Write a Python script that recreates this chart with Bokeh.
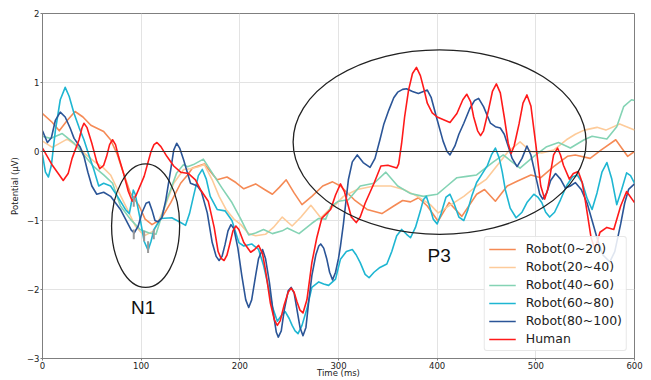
from bokeh.plotting import figure
from bokeh.models import Range1d, Legend, LegendItem, Span, FixedTicker
from bokeh.core.properties import value
from bokeh.embed import file_html
from bokeh.resources import INLINE

# ---------------- data: (time ms, potential uV) pairs ----------------
human_pts = [(0,0.05),(10,-0.2),(21,-0.42),(26,-0.32),(30,-0.1),(37,0.17),(40,0.34),(42,0.41),(45,0.35),(50,0.12),
             (55,-0.15),(58,-0.25),(62,-0.2),(65,-0.07),(68,0.1),(71,0.17),(74,0.1),(77,-0.07),(82,-0.31),(87,-0.58),
             (91,-0.72),(95,-0.63),(103,-0.36),(110,0.0),(113,0.1),(116,0.13),(120,0.07),(126,-0.07),(133,-0.21),(140,-0.3),
             (148,-0.32),(155,-0.41),(160,-0.55),(168,-0.72),(174,-1.1),(178,-1.45),(181,-1.55),(184,-1.58),(187,-1.5),(190,-1.33),
             (193,-1.15),(196,-1.08),(199,-1.13),(204,-1.32),(211,-1.46),(215,-1.42),(219,-1.36),(223,-1.48),(226,-1.72),(231,-2.2),
             (235,-2.44),(238,-2.52),(241,-2.45),(245,-2.22),(249,-2.04),(252,-1.98),(255,-2.04),(258,-2.18),(261,-2.3),(264,-2.34),
             (268,-2.15),(273,-1.61),(278,-1.25),(283,-0.97),(292,-0.84),(297,-0.63),(302,-0.47),(306,-0.58),(309,-0.74),(313,-0.95),
             (318,-1.03),(322,-0.95),(327,-0.75),(336,-0.46),(343,-0.21),(350,-0.2),(359,-0.24),(361,-0.18),(364,0.12),(367,0.5),
             (371,0.89),(375,1.13),(379,1.22),(383,1.1),(387,0.88),(390,0.7),(395,0.56),(400,0.5),(413,0.42),(420,0.55),
             (426,0.75),(430,0.83),(434,0.72),(437,0.5),(441,0.3),(444,0.23),(447,0.3),(452,0.6),(456,0.87),(460,0.98),
             (464,0.85),(468,0.5),(472,0.12),(475,-0.03),(478,0.08),(483,0.4),(487,0.7),(491,0.82),(495,0.66),(500,0.1),
             (505,-0.5),(509,-0.69),(512,-0.55),(515,-0.3),(518,-0.05),(522,0.05),(525,-0.05),(528,-0.2),(534,-0.4),(538,-0.32),
             (543,-0.29),(547,-0.45),(550,-0.7),(556,-1.25),(560,-1.42),(565,-1.17),(572,-1.1),(579,-1.13),(586,-0.79),(592,-0.58),
             (600,-0.74)]

r80_pts = [(0,0.3),(5,0.13),(9,0.2),(13,0.45),(18,0.57),(23,0.5),(28,0.34),(32,0.19),(38,0.07),(42,-0.07),
           (46,-0.3),(50,-0.5),(55,-0.62),(62,-0.59),(69,-0.65),(79,-0.84),(86,-1.03),(90,-1.14),(93,-1.18),(97,-1.08),
           (101,-0.88),(105,-0.75),(108,-0.73),(111,-0.85),(114,-1.0),(117,-1.02),(121,-0.96),(125,-0.7),(130,-0.26),(133,0.02),
           (136,0.12),(139,0.05),(143,-0.12),(150,-0.46),(157,-0.5),(161,-0.58),(167,-0.89),(172,-1.32),(176,-1.52),(179,-1.58),
           (182,-1.52),(185,-1.35),(188,-1.15),(191,-1.06),(194,-1.12),(198,-1.4),(202,-1.8),(206,-2.15),(209,-2.26),(212,-2.15),
           (216,-1.8),(219,-1.55),(223,-1.42),(226,-1.55),(230,-1.9),(234,-2.35),(237,-2.62),(239,-2.69),(242,-2.6),(245,-2.3),
           (249,-2.02),(252,-1.97),(255,-2.05),(258,-2.3),(261,-2.55),(264,-2.67),(267,-2.55),(270,-2.15),(273,-1.8),(277,-1.5),
           (280,-1.37),(282,-1.34),(285,-1.4),(288,-1.55),(291,-1.75),(294,-1.86),(297,-1.75),(300,-1.55),(302,-1.37),(305,-1.05),
           (307,-0.79),(310,-0.41),(314,-0.15),(319,-0.05),(325,-0.16),(332,-0.23),(337,-0.1),(342,0.17),(346,0.4),(351,0.6),
           (356,0.78),(360,0.86),(365,0.9),(369,0.91),(375,0.87),(381,0.84),(386,0.87),(390,0.89),(394,0.78),(400,0.46),
           (406,0.15),(410,0.0),(413,-0.05),(418,0.08),(422,0.25),(427,0.41),(433,0.62),(438,0.74),(442,0.77),(447,0.65),
           (454,0.41),(459,0.36),(464,0.34),(468,0.25),(471,0.12),(476,-0.1),(481,-0.22),(486,-0.1),(491,0.08),(495,-0.05),
           (501,-0.43),(504,-0.62),(507,-0.69),(511,-0.6),(515,-0.42),(520,-0.32),(525,-0.4),(530,-0.53),(535,-0.5),(540,-0.45),
           (546,-0.55),(552,-0.75),(557,-1.0),(562,-1.25),(568,-1.5),(575,-1.6),(580,-1.45),(586,-1.05),(590,-0.75),(594,-0.55),
           (600,-0.47)]

r60_pts = [(0,-0.05),(3,-0.3),(6,-0.37),(9,-0.2),(13,0.3),(18,0.75),(23,0.93),(27,0.8),(32,0.55),(37,0.35),
           (42,0.17),(47,-0.05),(52,-0.26),(57,-0.5),(62,-0.46),(69,-0.5),(76,-0.65),(84,-0.84),(88,-0.9),(90,-0.75),
           (92,-0.56),(94,-0.62),(99,-0.98),(103,-1.3),(107,-1.43),(110,-1.3),(113,-1.13),(120,-0.97),(131,-0.96),(140,-1.03),
           (145,-1.07),(149,-0.9),(153,-0.65),(158,-0.35),(162,-0.26),(166,-0.4),(170,-0.65),(177,-0.84),(185,-0.86),(192,-1.0),
           (199,-1.32),(204,-1.37),(212,-1.34),(219,-1.42),(224,-1.65),(228,-1.9),(233,-2.25),(238,-2.46),(242,-2.38),(246,-2.32),
           (250,-2.42),(253,-2.52),(256,-2.6),(259,-2.64),(263,-2.52),(268,-2.28),(273,-1.97),(280,-1.89),(285,-1.92),(290,-1.94),
           (297,-1.85),(302,-1.56),(308,-1.45),(314,-1.42),(318,-1.5),(322,-1.61),(327,-1.78),(331,-1.83),(336,-1.75),(342,-1.68),
           (349,-1.63),(354,-1.45),(359,-1.22),(364,-1.13),(369,-1.2),(373,-1.25),(378,-1.1),(383,-0.86),(386,-0.7),(389,-0.65),
           (392,-0.78),(396,-0.98),(400,-1.05),(404,-0.9),(409,-0.66),(413,-0.62),(417,-0.75),(422,-0.95),(427,-1.0),(431,-0.85),
           (435,-0.65),(440,-0.45),(444,-0.36),(451,-0.2),(455,-0.05),(459,0.05),(463,-0.1),(466,-0.3),(469,-0.55),(474,-0.82),
           (480,-0.96),(486,-0.88),(491,-0.74),(498,-0.62),(502,-0.66),(506,-0.74),(510,-0.88),(514,-0.95),(519,-0.88),(525,-0.7),
           (531,-0.5),(537,-0.37),(542,-0.34),(547,-0.45),(552,-0.68),(557,-0.84),(562,-0.6),(567,-0.3),(572,-0.16),(577,-0.4),
           (582,-0.77),(587,-0.55),(592,-0.31),(596,-0.35),(600,-0.46)]

r40_pts = [(0,0.22),(8,0.19),(20,0.26),(32,0.12),(42,-0.05),(52,-0.22),(62,-0.34),(71,-0.46),(79,-0.79),(89,-0.98),
           (99,-1.13),(108,-1.18),(115,-1.2),(126,-0.7),(136,-0.31),(143,-0.19),(147,-0.22),(153,-0.19),(163,-0.11),(172,-0.31),
           (182,-0.53),(192,-0.74),(201,-0.98),(209,-1.21),(216,-1.18),(224,-1.13),(233,-1.19),(243,-1.15),(248,-1.11),(260,-1.19),
           (273,-1.04),(280,-0.97),(287,-0.98),(292,-0.8),(300,-0.72),(310,-0.7),(322,-0.5),(336,-0.46),(348,-0.3),(360,-0.5),
           (373,-0.61),(386,-0.65),(400,-0.62),(410,-0.5),(420,-0.38),(430,-0.36),(440,-0.34),(457,-0.15),(467,-0.05),(484,-0.24),
           (498,-0.07),(511,0.07),(523,0.13),(535,0.05),(549,0.17),(557,0.22),(572,0.18),(582,0.36),(589,0.65),(597,0.75),
           (600,0.74)]

r20_pts = [(0,0.15),(10,0.06),(25,0.18),(38,0.05),(42,-0.02),(52,-0.14),(62,-0.24),(69,-0.34),(77,-0.58),(86,-0.84),
           (94,-1.08),(103,-1.22),(113,-1.15),(123,-0.84),(133,-0.46),(143,-0.26),(150,-0.25),(158,-0.22),(164,-0.19),(172,-0.41),
           (179,-0.65),(186,-0.84),(194,-0.98),(201,-1.06),(209,-1.19),(216,-1.22),(226,-1.2),(234,-1.1),(243,-0.95),(253,-1.08),
           (262,-0.95),(272,-0.78),(282,-0.96),(290,-0.85),(297,-0.77),(305,-0.65),(319,-0.55),(336,-0.5),(353,-0.5),(366,-0.55),
           (380,-0.65),(393,-0.77),(401,-0.89),(414,-0.77),(427,-0.65),(440,-0.5),(450,-0.4),(461,-0.2),(472,0.0),(484,0.14),
           (495,0.0),(506,-0.02),(518,0.02),(531,0.17),(540,0.25),(549,0.31),(562,0.35),(571,0.31),(585,0.4),(600,0.31)]

r0_pts = [(0,0.55),(10,0.42),(17,0.3),(25,0.45),(33,0.58),(41,0.5),(49,0.38),(62,0.29),(69,0.17),(76,-0.05),
          (82,-0.31),(89,-0.6),(98,-0.79),(104,-0.98),(111,-1.06),(120,-0.98),(130,-0.74),(140,-0.46),(147,-0.34),(152,-0.24),
          (164,-0.18),(174,-0.36),(177,-0.41),(187,-0.37),(196,-0.45),(204,-0.54),(216,-0.47),(225,-0.55),(233,-0.62),(240,-0.52),
          (247,-0.41),(255,-0.6),(263,-0.77),(273,-0.65),(284,-0.5),(294,-0.44),(302,-0.5),(316,-0.7),(329,-0.84),(344,-0.9),
          (356,-0.79),(365,-0.71),(373,-0.73),(381,-0.67),(390,-0.79),(401,-1.01),(412,-0.74),(425,-0.94),(440,-0.62),(448,-0.55),
          (459,-0.72),(471,-0.5),(481,-0.43),(495,-0.34),(505,-0.38),(518,-0.22),(532,-0.07),(540,-0.05),(555,-0.1),(566,0.02),
          (581,0.17),(593,-0.07),(600,0.0)]

# error bars near N1
err_t = [92.5, 92.5, 103, 107, 112.8]
err_lo = [-0.8, -1.27, -1.3, -1.47, -1.27]
err_hi = [-0.65, -1.13, -1.15, -1.3, -1.13]

# annotation ellipses & labels
ell_x = [104.5, 402.5]
ell_y = [-1.075, 0.137]
ell_w = [69, 297]
ell_h = [1.79, 2.675]
lab_x = [102, 402]
lab_y = [-2.26, -1.5]
lab_text = ["N1", "P3"]

x_ticks = [0, 100, 200, 300, 400, 500, 600]
y_ticks = [-3, -2, -1, 0, 1, 2]

series = [
    ("Robot(0~20)", r0_pts, "#F58A55"),
    ("Robot(20~40)", r20_pts, "#FDCB9A"),
    ("Robot(40~60)", r40_pts, "#84D3B4"),
    ("Robot(60~80)", r60_pts, "#1EB6D2"),
    ("Robot(80~100)", r80_pts, "#2B5597"),
    ("Human", human_pts, "#FF1A1A"),
]

p = figure(width=651, height=380, output_backend="svg", toolbar_location=None,
           x_range=Range1d(0, 600), y_range=Range1d(-3, 2),
           min_border_left=42, min_border_right=17, min_border_top=13, min_border_bottom=10)
p.background_fill_color = "white"
p.outline_line_color = "#7f7f7f"
p.outline_line_width = 1

for ax in (p.xaxis[0], p.yaxis[0]):
    ax.axis_line_color = "#7f7f7f"
    ax.major_tick_line_color = "#7f7f7f"
    ax.major_tick_out = 2
    ax.major_tick_in = 0
    ax.minor_tick_line_color = None
    ax.major_label_text_font = "DejaVu Sans"
    ax.major_label_text_font_size = "8.5px"
    ax.major_label_text_color = "#222222"
    ax.axis_label_text_font = "DejaVu Sans"
    ax.axis_label_text_font_size = "8.5px"
    ax.axis_label_text_font_style = "normal"
    ax.axis_label_text_color = "#222222"
    ax.major_label_standoff = 1

p.xaxis.axis_label_standoff = -4
p.yaxis.axis_label_standoff = 4

p.xaxis.ticker = FixedTicker(ticks=x_ticks)
p.yaxis.ticker = FixedTicker(ticks=y_ticks)
p.yaxis.major_label_overrides = {t: ("\u2212%d" % -t if t < 0 else str(t)) for t in y_ticks}
p.xaxis.axis_label = "Time (ms)"
p.yaxis.axis_label = "Potential (\u03bcV)"

p.xgrid.grid_line_color = "#e3e3e3"
p.ygrid.grid_line_color = "#e3e3e3"
p.xgrid.ticker = FixedTicker(ticks=x_ticks)
p.ygrid.ticker = FixedTicker(ticks=y_ticks)

p.add_layout(Span(location=0, dimension="width", line_color="#333333", line_width=1.2))

items = []
for name, pts, c in series:
    t = [a for a, _ in pts]
    v = [b for _, b in pts]
    r = p.line(t, v, line_color=c, line_width=1.6, line_join="round")
    items.append(LegendItem(label=name, renderers=[r]))

p.segment(x0=err_t, y0=err_lo, x1=err_t, y1=err_hi, line_color="#9a9a9a", line_width=2)

p.ellipse(x=ell_x, y=ell_y, width=ell_w, height=ell_h, fill_color=None,
          line_color="#222222", line_width=1.3)

p.text(x=lab_x, y=lab_y, text=lab_text, text_font=value("Liberation Sans"),
       text_font_size="19px", text_align="center", text_baseline="middle",
       text_color="#111111")

legend = Legend(items=items, location="bottom_right")
legend.label_text_font = "DejaVu Sans"
legend.label_text_font_size = "12.5px"
legend.label_text_color = "#222222"
legend.label_height = 14
legend.glyph_height = 14
legend.glyph_width = 27
legend.label_standoff = 10
legend.spacing = 3
legend.padding = 4
legend.margin = 7
legend.border_line_color = "#d0d0d0"
legend.border_radius = 3
legend.background_fill_alpha = 0.85
p.add_layout(legend)

open("out.html", "w").write(file_html(p, INLINE))
